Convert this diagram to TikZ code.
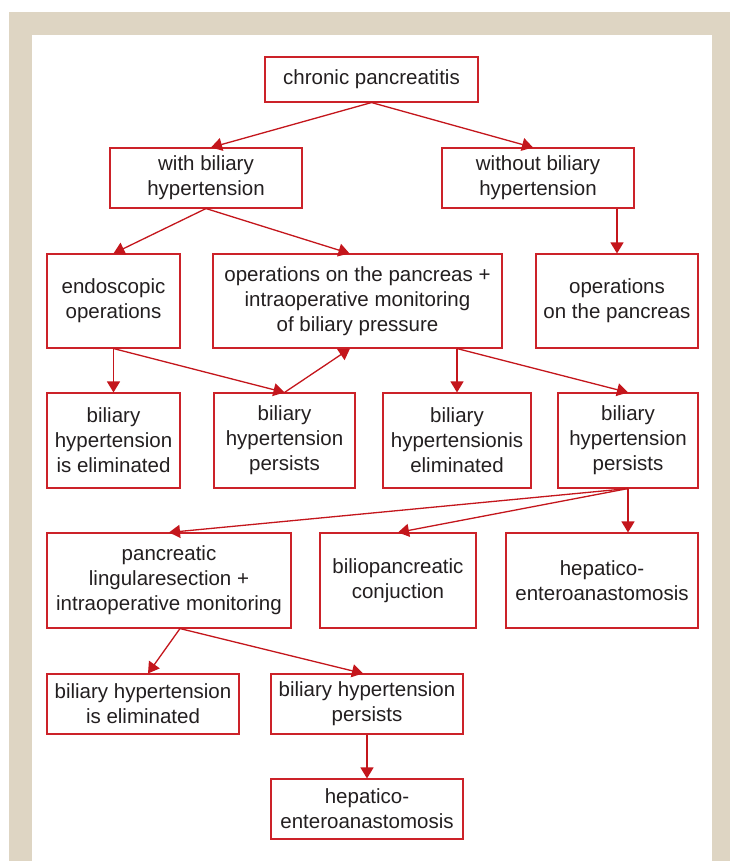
\documentclass[tikz,border=0pt]{standalone}
\usepackage{fontspec}
\setmainfont{Liberation Sans}
\usetikzlibrary{arrows.meta,calc}
\definecolor{boxred}{HTML}{CC2229}
\definecolor{arrred}{HTML}{C4161C}
\definecolor{beige}{HTML}{DED5C3}
\definecolor{txt}{HTML}{231F20}
\tikzset{
  fbox/.style={draw=boxred, line width=1.1pt, fill=white, inner sep=0pt, align=center,
    text=txt, font=\fontsize{20.5}{25}\selectfont},
  conn/.style={draw=arrred, line width=1.3pt, -{Triangle[length=11pt,width=13pt]}},
}
\newcommand{\bx}[6]{\node[fbox, minimum width=#4, minimum height=#5] (#1) at (#2,#3) {#6};}
\begin{document}
\begin{tikzpicture}[x=1pt,y=-1pt]
\useasboundingbox (0,0) rectangle (730,861);
\fill[white] (0,0) rectangle (730,861);
\fill[beige] (9,12) rectangle (730,861);
\fill[white] (32,35) rectangle (712,861);

\bx{cp}{371.5}{79.5}{213}{45}{chronic pancreatitis}
\bx{wb}{206}{178}{192}{60}{with biliary\\hypertension}
\bx{wob}{538}{178}{192}{60}{without biliary\\hypertension}
\bx{endo}{113.5}{301}{133}{94}{endoscopic\\operations}
\bx{opsm}{357.5}{301}{289}{94}{operations on the pancreas +\\intraoperative monitoring\\of biliary pressure}
\bx{opsr}{617}{301}{162}{94}{operations\\on the pancreas}
\bx{ra}{113.5}{440.5}{133}{95}{biliary\\hypertension\\is eliminated}
\bx{rb}{284.5}{440.5}{141}{95}{biliary\\hypertension\\persists}
\bx{rc}{457}{440.5}{148}{95}{biliary\\hypertensionis\\eliminated}
\bx{rd}{628}{440.5}{140}{95}{biliary\\hypertension\\persists}
\bx{sa}{169}{580.5}{244}{95}{pancreatic\\lingularesection +\\intraoperative monitoring}
\bx{sb}{398}{580.5}{156}{95}{biliopancreatic\\conjuction}
\bx{sc}{602}{580.5}{192}{95}{hepatico-\\enteroanastomosis}
\bx{ta}{143}{704}{192}{60}{biliary hypertension\\is eliminated}
\bx{tb}{367}{704}{192}{60}{biliary hypertension\\persists}
\bx{ua}{367}{809}{192}{60}{hepatico-\\enteroanastomosis}

\draw[conn] (cp.south) -- ([xshift=5pt]wb.north);
\draw[conn] (cp.south) -- ([xshift=-5pt]wob.north);
\draw[conn] (wb.south) -- (endo.north);
\draw[conn] (wb.south) -- ([xshift=-8pt]opsm.north);
\coordinate (wobout) at (opsr.north |- wob.south);
\draw[conn] (wobout) -- (opsr.north);
\draw[conn] (endo.south) -- (ra.north);
\draw[conn] (endo.south) -- (rb.north);
\draw[conn] (rb.north) -- ([xshift=-7.5pt]opsm.south);
\coordinate (opsout) at (rc.north |- opsm.south);
\draw[conn] (opsout) -- (rc.north);
\draw[conn] (opsout) -- (rd.north);
\draw[conn] (rd.south) -- (sa.north);
\draw[conn] (rd.south) -- (sb.north);
\coordinate (rdin) at (rd.south |- sc.north);
\draw[conn] (rd.south) -- (rdin);
\coordinate (saout) at ([xshift=11pt]sa.south);
\draw[conn] (saout) -- ([xshift=5pt]ta.north);
\draw[conn] (saout) -- ([xshift=-4pt]tb.north);
\draw[conn] (tb.south) -- (ua.north);
\end{tikzpicture}
\end{document}
